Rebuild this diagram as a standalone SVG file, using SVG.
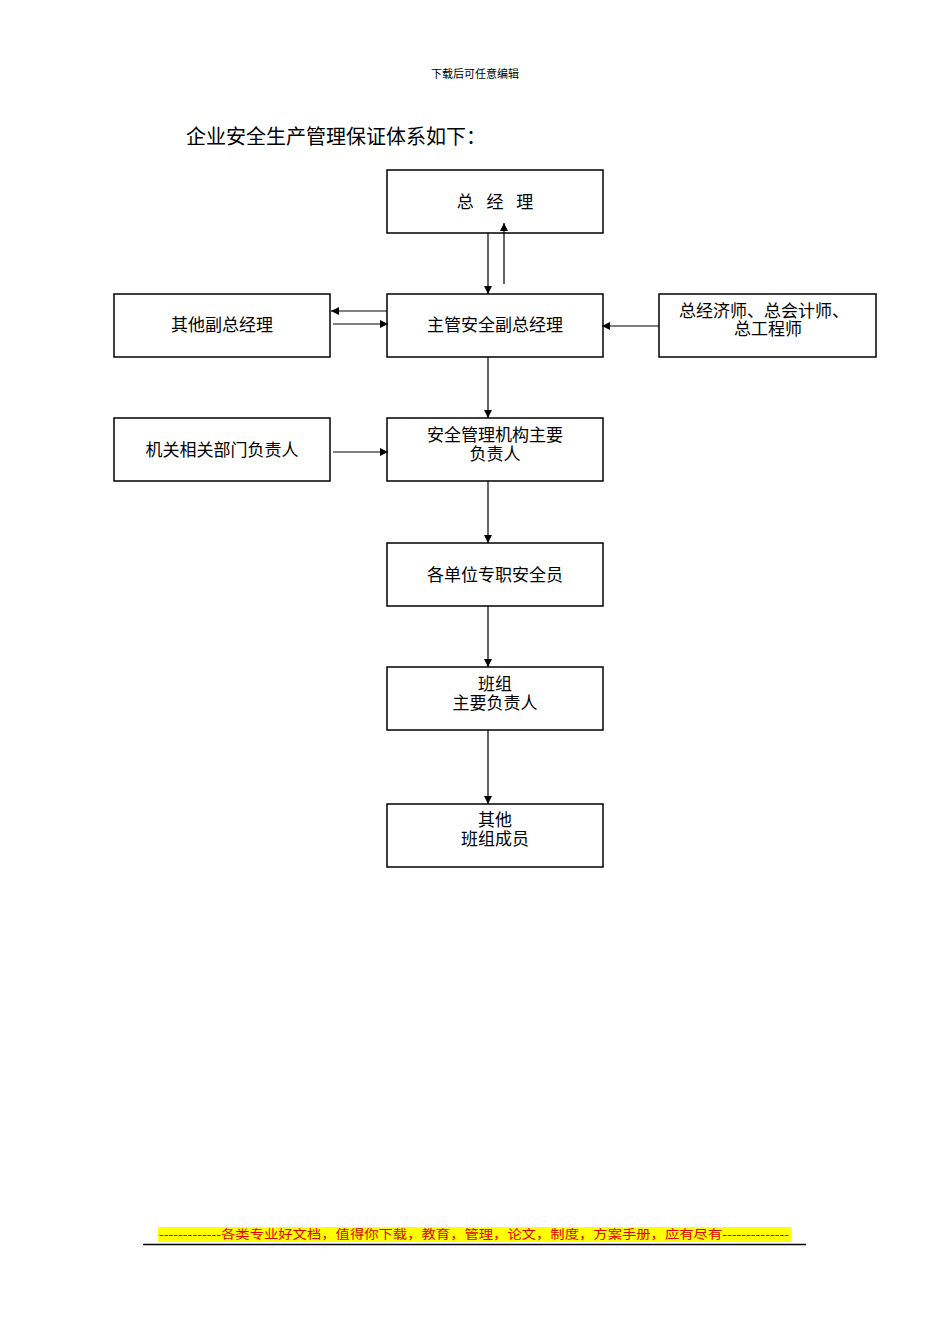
<svg xmlns="http://www.w3.org/2000/svg" width="950" height="1344" viewBox="0 0 950 1344">
<style>
.b{fill:#fff;stroke:#000;stroke-width:1.5}
.t{font-family:"Liberation Serif","Noto Sans CJK SC",serif;font-size:17px;text-anchor:middle}
.c{stroke:#000;stroke-width:1.2;fill:none;marker-end:url(#a)}
</style>
<defs><marker id="a" viewBox="0 0 10 10" refX="10" refY="5" markerWidth="8" markerHeight="8" markerUnits="userSpaceOnUse" orient="auto"><path d="M0,0L10,5L0,10z"/></marker></defs>
<rect width="950" height="1344" fill="#fff"/>
<text x="475" y="78" style="font-family:'Liberation Serif','Noto Sans CJK SC',serif;font-size:11px;text-anchor:middle">下载后可任意编辑</text>
<text x="186" y="144" style="font-family:'Liberation Serif','Noto Sans CJK SC',serif;font-size:20px">企业安全生产管理保证体系如下：</text>
<g id="n1"><rect class="b" x="387" y="170" width="216" height="63"/><text class="t" x="495" y="208" xml:space="preserve">总   经   理</text></g>
<g id="n2"><rect class="b" x="387" y="294" width="216" height="63"/><text class="t" x="495" y="331">主管安全副总经理</text></g>
<g id="n3"><rect class="b" x="114" y="294" width="216" height="63"/><text class="t" x="222" y="331">其他副总经理</text></g>
<g id="n4"><rect class="b" x="659" y="294" width="217" height="63"/><text class="t" x="764" y="317">总经济师、总会计师、</text><text class="t" x="768" y="335">总工程师</text></g>
<g id="n5"><rect class="b" x="114" y="418" width="216" height="63"/><text class="t" x="222" y="456">机关相关部门负责人</text></g>
<g id="n6"><rect class="b" x="387" y="418" width="216" height="63"/><text class="t" x="495" y="441">安全管理机构主要</text><text class="t" x="495" y="460">负责人</text></g>
<g id="n7"><rect class="b" x="387" y="543" width="216" height="63"/><text class="t" x="495" y="581">各单位专职安全员</text></g>
<g id="n8"><rect class="b" x="387" y="667" width="216" height="63"/><text class="t" x="495" y="690">班组</text><text class="t" x="495" y="709">主要负责人</text></g>
<g id="n9"><rect class="b" x="387" y="804" width="216" height="63"/><text class="t" x="495" y="826">其他</text><text class="t" x="495" y="845">班组成员</text></g>
<g id="connectors">
<line class="c" x1="488" y1="233" x2="488" y2="294"/>
<line class="c" x1="504" y1="284" x2="504" y2="223"/>
<line class="c" x1="387" y1="311" x2="331" y2="311"/>
<line class="c" x1="333" y1="324" x2="388" y2="324"/>
<line class="c" x1="659" y1="326" x2="602" y2="326"/>
<line class="c" x1="488" y1="357" x2="488" y2="418"/>
<line class="c" x1="333" y1="452" x2="388" y2="452"/>
<line class="c" x1="488" y1="481" x2="488" y2="543"/>
<line class="c" x1="488" y1="606" x2="488" y2="667"/>
<line class="c" x1="488" y1="730" x2="488" y2="804"/>
</g>
<rect x="158" y="1227" width="633" height="15" fill="#ffff00"/>
<text x="474" y="1239" style="font-family:'Liberation Serif','Noto Sans CJK SC',serif;font-size:12.5px;text-anchor:middle;fill:#e00000" textLength="630" lengthAdjust="spacingAndGlyphs">-------------各类专业好文档，值得你下载，教育，管理，论文，制度，方案手册，应有尽有--------------</text>
<line x1="143" y1="1244.5" x2="806" y2="1244.5" stroke="#000" stroke-width="1.5"/>
</svg>
